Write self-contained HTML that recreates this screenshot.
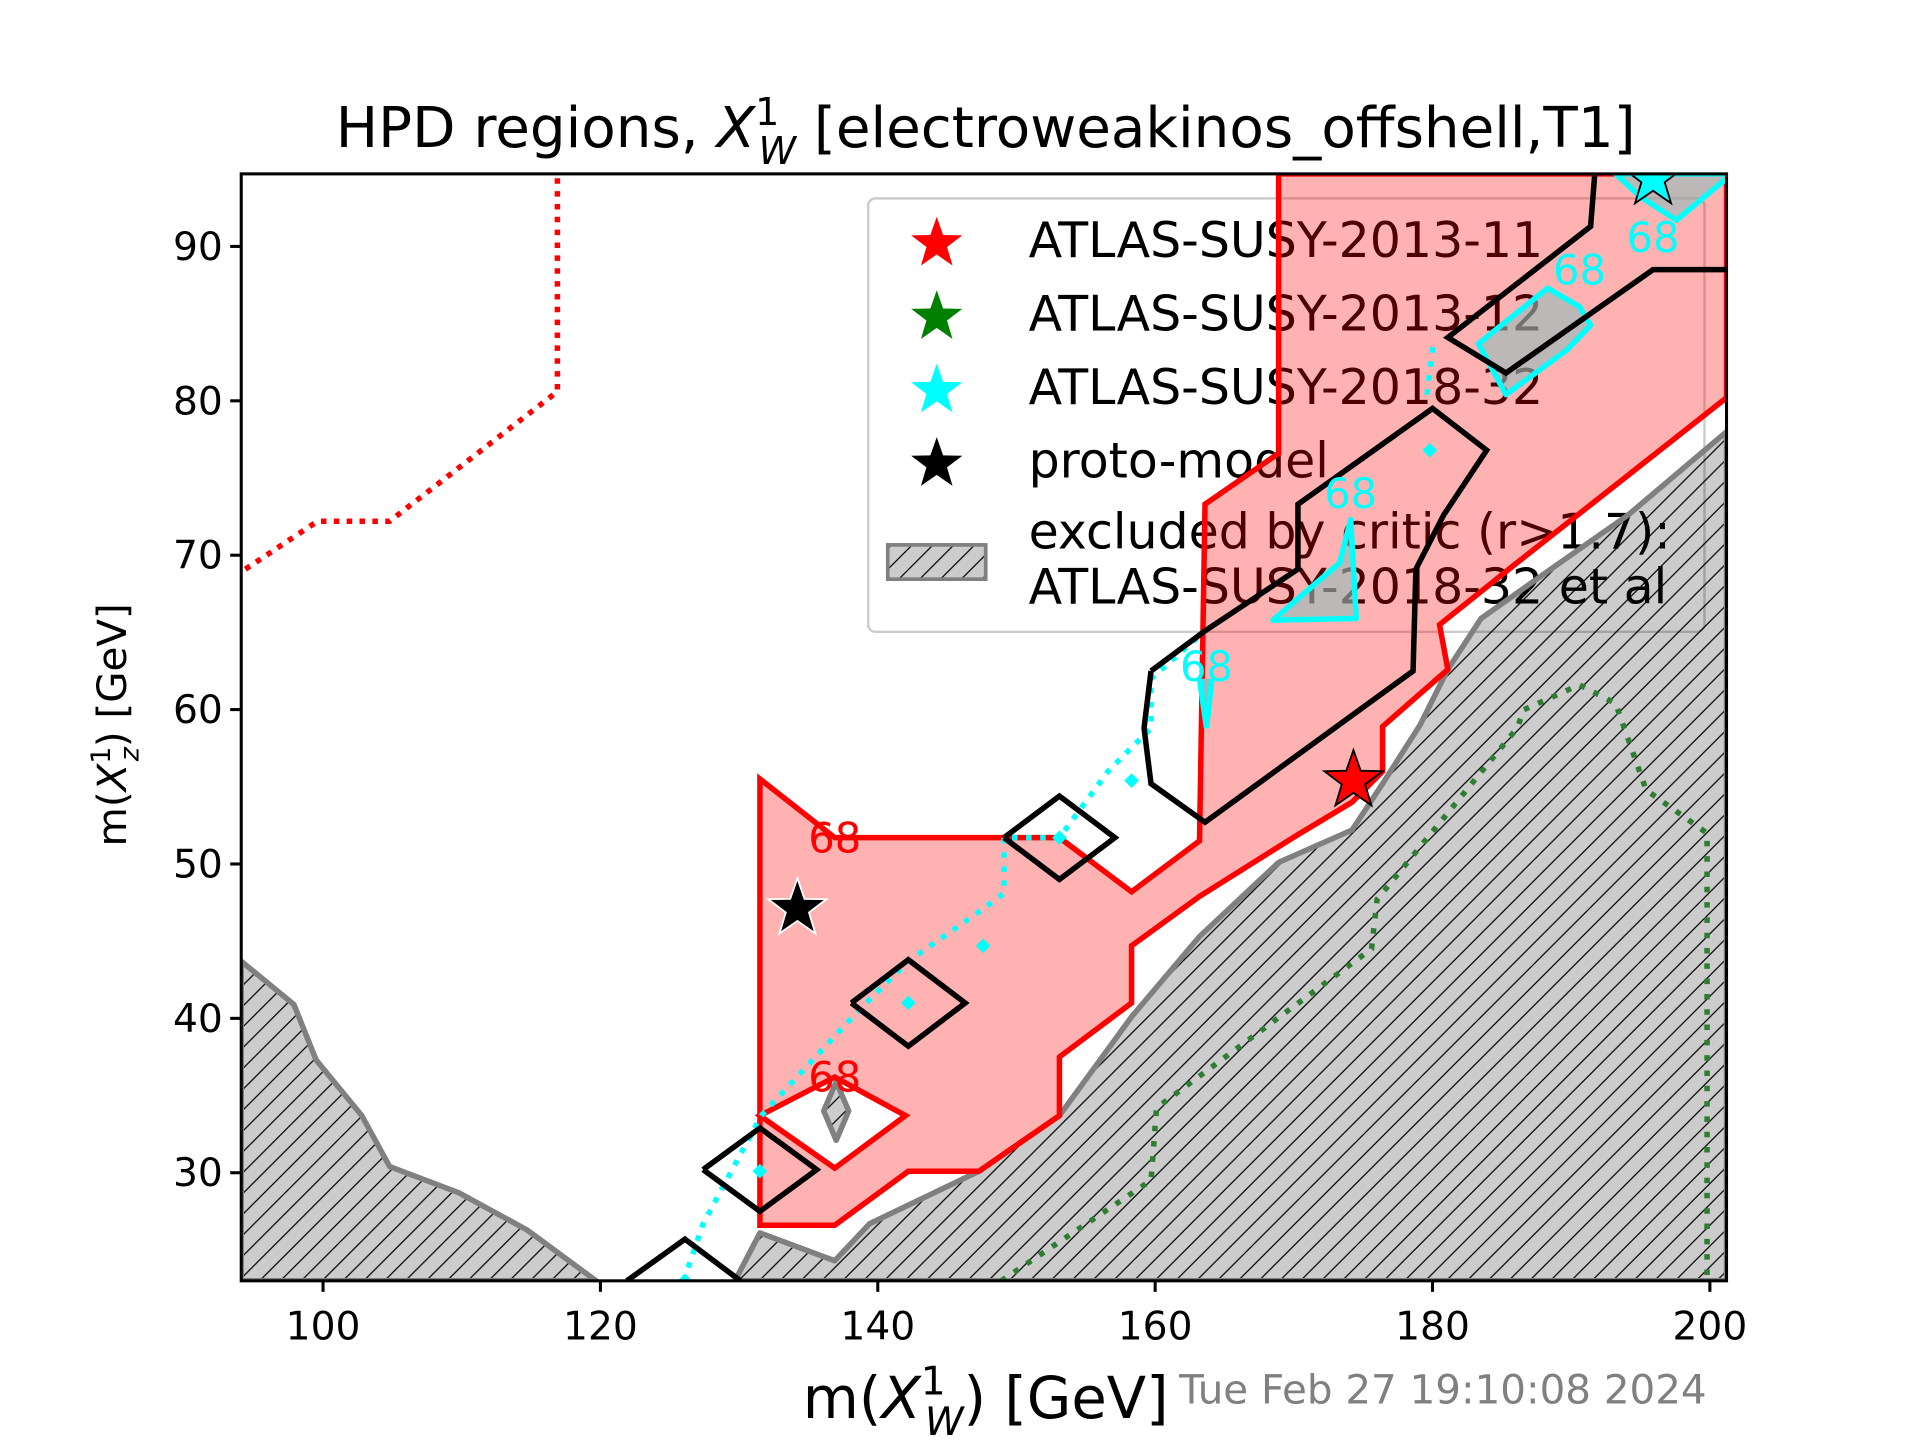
<!DOCTYPE html>
<html><head><meta charset="utf-8"><style>
html,body{margin:0;padding:0;background:#fff;}
svg{display:block;font-family:"DejaVu Sans","Liberation Sans",sans-serif;}
</style></head><body>
<svg id="chart" width="1920" height="1440" viewBox="0 0 1568 1176" xmlns="http://www.w3.org/2000/svg">
<defs>
<pattern id="hatch" patternUnits="userSpaceOnUse" width="17" height="17">
<rect width="17" height="17" fill="#000" fill-opacity="0.2"/>
<path d="M-2,19 L19,-2 M-2,2 L2,-2 M15,19 L19,15" stroke="#000" stroke-width="1"/>
</pattern>
<clipPath id="plotclip"><rect x="197" y="142" width="1213" height="904"/></clipPath>
</defs>
<text x="805" y="120" font-size="46" text-anchor="middle">HPD regions, <tspan font-style="italic">X</tspan><tspan font-size="31" dy="-18">1</tspan><tspan font-size="31" font-style="italic" dx="-17" dy="32">W</tspan><tspan dy="-14"> [electroweakinos_offshell,T1]</tspan></text>
<g id="legend">
<rect x="709" y="162" width="683" height="354" rx="6" fill="#fff" fill-opacity="0.8" stroke="#cccccc" stroke-width="2"/>
</g>
<g id="plot" clip-path="url(#plotclip)"></g>
<g id="axes"></g>
<text x="805" y="1158" font-size="47" text-anchor="middle">m(<tspan font-style="italic">X</tspan><tspan font-size="32" dy="-19">1</tspan><tspan font-size="32" font-style="italic" dx="-17" dy="33">W</tspan><tspan dy="-14">) [GeV]</tspan></text>
<text transform="translate(103,592) rotate(-90)" font-size="33" text-anchor="middle">m(<tspan font-style="italic">X</tspan><tspan font-size="22" dy="-13">1</tspan><tspan font-size="22" font-style="italic" dx="-12" dy="23">z</tspan><tspan dy="-10">) [GeV]</tspan></text>
<text x="963" y="1146" font-size="33" fill="#808080">Tue Feb 27 19:10:08 2024</text>
</svg>
<script>
const xTicks=[100,120,140,160,180,200];
const yTicks=[30,40,50,60,70,80,90];
const redRegion=[[131.5,55.5],[131.5,26.6],[136.9,26.6],[142.2,30.1],[147.3,30.1],[153.1,33.7],[153.1,37.5],[158.3,41.0],[158.3,44.7],[163.2,47.9],[170.3,51.9],[174.2,54.0],[176.4,56.0],[176.4,58.9],[181.1,62.6],[180.5,65.5],[185.8,69.3],[201.2,80.2],[201.2,94.7],[168.9,94.7],[168.9,76.6],[163.6,73.3],[163.2,51.5],[158.3,48.2],[153.1,51.7],[136.9,51.7],[131.5,55.5]];
const redHole=[[131.5,33.7],[136.9,36.2],[142.0,33.7],[136.9,30.3],[131.5,33.7]];
const exclLeft=[[94.1,23],[94.1,43.7],[97.9,40.9],[99.5,37.3],[102.8,33.7],[104.8,30.4],[109.8,28.7],[114.7,26.3],[119.7,23]];
const exclRight=[[129.7,23],[131.5,26.1],[136.9,24.3],[139.4,26.7],[142.2,27.9],[147.3,30.1],[153.1,33.7],[158.3,40.1],[163.2,45.3],[168.9,50.1],[174.2,52.2],[176.4,55.2],[179.1,59.0],[181.1,62.6],[183.5,65.9],[187.9,68.7],[194.1,72.6],[201.2,78.0],[201.2,23]];
const exclSmall=[[137.0,35.9],[137.9,34.0],[137.0,32.1],[136.1,34.0],[137.0,35.9]];
const blackA=[[121.9,23],[126.1,25.7],[130.1,23]];
const blackB=[[127.4,30.2],[131.5,32.9],[135.6,30.2],[131.5,27.5],[127.4,30.2]];
const blackC=[[138.1,41.0],[142.2,43.8],[146.3,41.0],[142.2,38.2],[138.1,41.0]];
const blackD=[[149.1,51.7],[153.1,54.4],[157.1,51.7],[153.1,49.0],[149.1,51.7]];
const blackE=[[159.7,62.5],[159.2,58.8],[159.7,55.2],[163.6,52.7],[178.6,62.5],[178.8,69.1],[180.8,72.6],[183.9,76.8],[180.0,79.5],[170.3,73.3],[170.3,69.1],[163.6,65.1],[159.7,62.5]];
const blackF=[[191.7,94.7],[191.4,91.3],[181.1,84.1],[185.3,81.8],[195.9,88.5],[201.2,88.5]];
const cyanA=[[168.5,65.8],[173.3,69.5],[174.1,72.3],[174.5,65.9],[168.5,65.8]];
const cyanB=[[163.2,62.0],[163.7,58.8],[164.1,62.0]];
const cyanC=[[183.3,83.7],[188.3,87.3],[190.6,86.1],[191.4,84.9],[189.7,83.3],[185.3,80.4],[183.3,83.7]];
const cyanD=[[193.2,94.7],[195.0,93.2],[197.6,91.7],[201.2,94.4],[201.2,94.7]];
const cyanDotted=[[126.0,23],[127.4,26.7],[131.6,33.7],[138.5,40.4],[142.2,43.7],[147.3,46.9],[149.1,48.1],[149.1,51.7],[153.1,51.7],[156.6,56.0],[159.7,58.8],[159.7,62.0],[163.6,65.1]];
const cyanDotted2=[[179.6,80.4],[180.1,84.0]];
const cyanDots=[[131.5,30.1],[142.2,41.0],[153.1,51.7],[158.3,55.4],[147.6,44.7],[179.8,76.8],[126.1,23]];
const redDotted=[[94.4,69.1],[99.6,72.2],[104.8,72.2],[116.9,80.6],[116.9,94.7]];
const greenDotted=[[148.9,23],[159.7,29.5],[160.1,34.2],[175.6,44.5],[176.0,47.7],[186.1,58.8],[186.6,60.0],[190.6,61.6],[193.2,60.4],[195.4,54.8],[199.8,52.0],[199.8,23]];
const stars=[{name:'red-star',x:174.3,y:55.4,c:'#ff0000'},{name:'proto-model-star',x:134.2,y:47.1,c:'#000000'},{name:'cyan-star',x:195.9,y:94.4,c:'#00ffff'}];
const labels68=[{x:136.9,y:51.7,c:'#ff0000'},{x:136.9,y:36.2,c:'#ff0000'},{x:163.7,y:62.8,c:'#00ffff'},{x:174.1,y:74.0,c:'#00ffff'},{x:190.6,y:88.5,c:'#00ffff'},{x:195.9,y:90.6,c:'#00ffff'}];
const legendNames=['ATLAS-SUSY-2013-11','ATLAS-SUSY-2013-12','ATLAS-SUSY-2018-32','proto-model'];
const legendColors=['#ff0000','#008000','#00ffff','#000000'];

const X0=94.1,X1=201.2,Y0=23.0,Y1=94.7,L=197,R=1410,T=142,B=1046;
function sx(v){return L+(v-X0)/(X1-X0)*(R-L);}
function sy(v){return B-(v-Y0)/(Y1-Y0)*(B-T);}
const NS='http://www.w3.org/2000/svg';
const plot=document.getElementById('plot'),axes=document.getElementById('axes'),legend=document.getElementById('legend');
function mk(tag,attrs,parent){const e=document.createElementNS(NS,tag);for(const k in attrs)e.setAttribute(k,attrs[k]);parent.appendChild(e);return e;}
function pts(a){return a.map(p=>sx(p[0]).toFixed(1)+','+sy(p[1]).toFixed(1)).join(' ');}
function pathD(a,close){return 'M'+a.map(p=>sx(p[0]).toFixed(1)+' '+sy(p[1]).toFixed(1)).join(' L')+(close?' Z':'');}
function starPath(cx,cy,r){let d='';for(let i=0;i<10;i++){const rr=i%2?r*0.4:r;const a=-Math.PI/2+i*Math.PI/5;d+=(i?'L':'M')+(cx+rr*Math.cos(a)).toFixed(1)+' '+(cy+rr*Math.sin(a)).toFixed(1);}return d+'Z';}

legendNames.forEach((n,i)=>{
  const y=197+i*60;
  const s=mk('path',{d:starPath(765,y+2,22),fill:legendColors[i],stroke:'none'},legend);
  
  
  const t=mk('text',{x:840,y:y+13,'font-size':40},legend);t.textContent=n;
  
  
});
const lp=mk('rect',{x:725,y:445,width:80,height:28,fill:'url(#hatch)',stroke:'#808080','stroke-width':3},legend);


const lt1=mk('text',{x:840,y:448,'font-size':40},legend);lt1.textContent='excluded by critic (r>1.7):';


const lt2=mk('text',{x:840,y:493,'font-size':40},legend);lt2.textContent='ATLAS-SUSY-2018-32 et al';



[[exclLeft,'excluded-region-left'],[exclRight,'excluded-region-right'],[exclSmall,'excluded-region-small']].forEach(([a,n])=>{
  const e=mk('path',{d:pathD(a,true),fill:'url(#hatch)',stroke:'#808080','stroke-width':4.5,'stroke-linejoin':'round'},plot);
  
  
});
const rf=mk('path',{d:pathD(redRegion,true)+' '+pathD(redHole,true),fill:'#ff0000','fill-opacity':0.3,'fill-rule':'evenodd',stroke:'none'},plot);


const rl=mk('path',{d:pathD(redRegion,true)+' '+pathD(redHole,true),fill:'none',stroke:'#ff0000','stroke-width':4.5,'stroke-linejoin':'miter'},plot);


const rd=mk('polyline',{points:pts(redDotted),fill:'none',stroke:'#ff0000','stroke-width':4.5,'stroke-dasharray':'4.5,6'},plot);


const gd=mk('polyline',{points:pts(greenDotted),fill:'none',stroke:'#2e7d32','stroke-width':4.5,'stroke-dasharray':'4.5,8'},plot);


[cyanDotted,cyanDotted2].forEach((a,i)=>{
  const c=mk('polyline',{points:pts(a),fill:'none',stroke:'#00ffff','stroke-width':4.5,'stroke-dasharray':'4.5,7'},plot);
  
  
});
cyanDots.forEach((p,i)=>{
  const d=mk('path',{d:'M'+(sx(p[0])-6)+' '+sy(p[1])+' l6 -6 l6 6 l-6 6 z',fill:'#00ffff'},plot);
  
  
});
[cyanA,cyanC,cyanD].forEach((a,i)=>{
  const c=mk('polygon',{points:pts(a),fill:'#8fbcbc','fill-opacity':0.6,stroke:'#00ffff','stroke-width':4.5,'stroke-linejoin':'round'},plot);
  
  
});
const cb=mk('polyline',{points:pts(cyanB),fill:'#8fbcbc',stroke:'#00ffff','stroke-width':4.5},plot);


[blackA,blackB,blackC,blackD,blackE,blackF].forEach((a,i)=>{
  const b=mk('polyline',{points:pts(a),fill:'none',stroke:'#000','stroke-width':4.5,'stroke-linejoin':'miter'},plot);
  
  
});
labels68.forEach((l,i)=>{
  const t=mk('text',{x:sx(l.x),y:sy(l.y)+12,'font-size':34,fill:l.c,'text-anchor':'middle'},plot);
  t.textContent='68';
  
  
});
stars.forEach(s=>{
  const e=mk('path',{d:starPath(sx(s.x),sy(s.y),25),fill:s.c,stroke:s.c==='#000000'?'#fff':'#000','stroke-width':1.5},plot);
  
  
});
const fr=mk('rect',{x:L,y:T,width:R-L,height:B-T,fill:'none',stroke:'#000','stroke-width':2.5},axes);


xTicks.forEach(v=>{
  const tk=mk('line',{x1:sx(v),x2:sx(v),y1:B,y2:B+9,stroke:'#000','stroke-width':2.5},axes);
  
  
  const t=mk('text',{x:sx(v),y:B+48,'font-size':32,'text-anchor':'middle'},axes);t.textContent=v;
  
  
});
yTicks.forEach(v=>{
  const tk=mk('line',{x1:L-9,x2:L,y1:sy(v),y2:sy(v),stroke:'#000','stroke-width':2.5},axes);
  
  
  const t=mk('text',{x:L-15,y:sy(v)+11,'font-size':32,'text-anchor':'end'},axes);t.textContent=v;
  
  
});
</script>
</body></html>
